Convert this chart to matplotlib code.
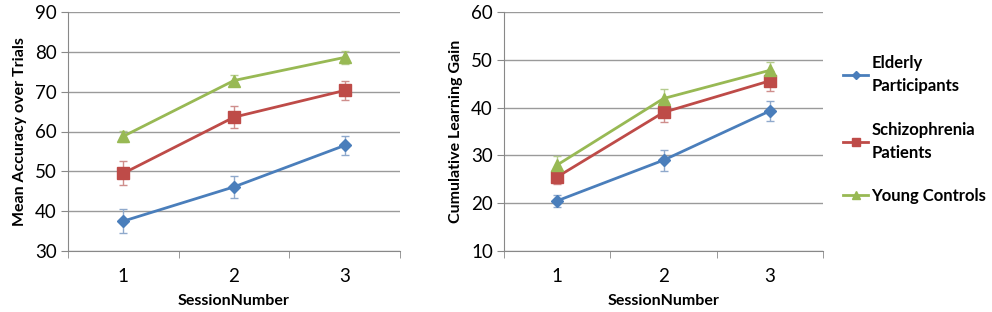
import matplotlib.pyplot as plt
import numpy as np

sessions = [1, 2, 3]
groups = ['Elderly\nParticipants', 'Schizophrenia\nPatients', 'Young Controls']

# Mean accuracy over trials
acc_elderly = [37.5, 46.1, 56.5]
acc_elderly_err = [3.0, 2.7, 2.4]
acc_schizo = [49.5, 63.6, 70.3]
acc_schizo_err = [3.0, 2.8, 2.4]
acc_young = [58.8, 72.8, 78.6]
acc_young_err = [1.4, 1.4, 1.6]

# Cumulative learning gain
gain_elderly = [20.5, 29.0, 39.3]
gain_elderly_err = [1.2, 2.2, 2.0]
gain_schizo = [25.5, 39.0, 45.6]
gain_schizo_err = [1.5, 2.1, 2.1]
gain_young = [28.0, 41.9, 47.8]
gain_young_err = [1.8, 2.0, 1.8]

colors = ['#4A7EBB', '#BE4B48', '#98B954']
err_colors = ['#8FA9CC', '#CF8E8C', '#B5CC8E']
markers = ['D', 's', '^']
msizes = [6, 8, 8]

plt.rcParams['font.family'] = ['Lato', 'DejaVu Sans']

fig = plt.figure(figsize=(9.92, 3.12), dpi=100)
ax1 = fig.add_axes([68 / 992, 61 / 312, 332 / 992, 239 / 312])
ax2 = fig.add_axes([504 / 992, 61 / 312, 319 / 992, 239 / 312])


def draw(ax, series, errs, ylim, ylabel):
    for i, (vals, e) in enumerate(zip(series, errs)):
        ax.errorbar(sessions, vals, yerr=e, fmt='none', ecolor=err_colors[i],
                    elinewidth=1, capsize=3, capthick=1, zorder=2)
        ax.plot(sessions, vals, color=colors[i], marker=markers[i], markersize=msizes[i],
                linewidth=2, label=groups[i], zorder=3)
    ax.set_xlim(0.5, 3.5)
    ax.set_ylim(*ylim)
    ax.set_yticks(np.arange(ylim[0], ylim[1] + 1, 10))
    ax.set_xticks(sessions)
    ax.set_xticks([0.5, 1.5, 2.5, 3.5], minor=True)
    ax.tick_params(axis='x', which='major', length=0, pad=12, labelsize=13.5)
    ax.tick_params(axis='x', which='minor', length=5, color='#888888')
    ax.tick_params(axis='y', length=5, color='#888888', labelsize=13.5, pad=3)
    ax.grid(axis='y', color='#9a9a9a', linewidth=1)
    ax.set_axisbelow(True)
    for s in ['top', 'right']:
        ax.spines[s].set_visible(False)
    for s in ['left', 'bottom']:
        ax.spines[s].set_color('#888888')
    ax.set_xlabel('SessionNumber', fontsize=11.5, fontweight='bold', labelpad=7)
    ax.set_ylabel(ylabel, fontsize=11.5, fontweight='bold', labelpad=6)


draw(ax1, [acc_elderly, acc_schizo, acc_young],
     [acc_elderly_err, acc_schizo_err, acc_young_err], (30, 90), 'Mean Accuracy over Trials')
draw(ax2, [gain_elderly, gain_schizo, gain_young],
     [gain_elderly_err, gain_schizo_err, gain_young_err], (10, 60), 'Cumulative Learning Gain')

handles, labels = ax2.get_legend_handles_labels()
leg = fig.legend(handles, labels, loc='upper left', bbox_to_anchor=(843 / 992, 1 - 55 / 312),
                 frameon=False, prop={'weight': 'bold', 'size': 12}, handlelength=1.5,
                 handletextpad=0.2, labelspacing=1.65, markerscale=0.7, borderpad=0,
                 borderaxespad=0)
for t in leg.get_texts():
    t.set_linespacing(1.55)

fig.savefig('out.png', dpi=100)
